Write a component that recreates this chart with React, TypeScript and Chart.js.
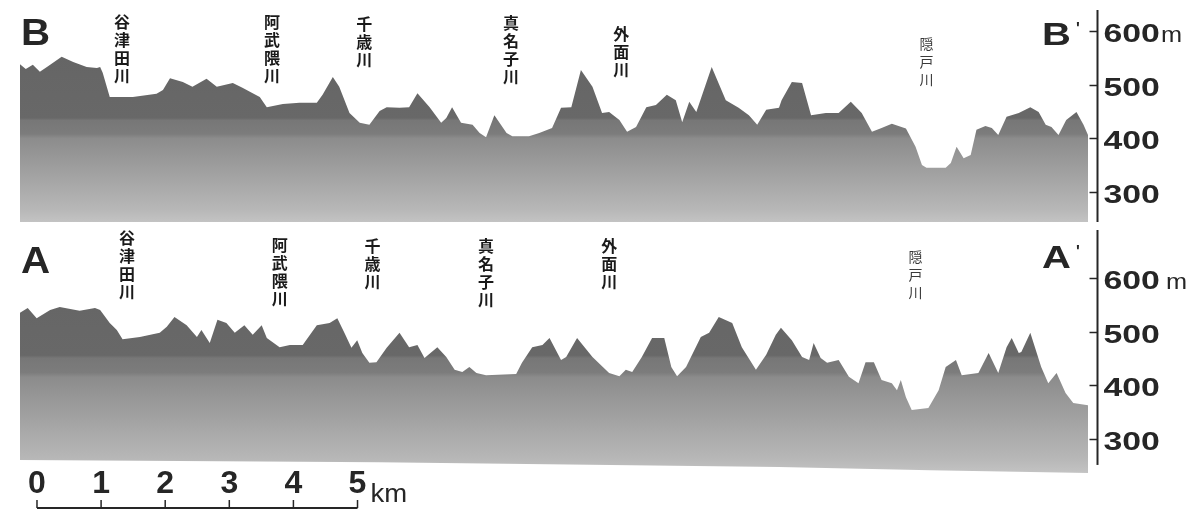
import { useEffect, useRef } from 'react';
import { Chart, registerables } from 'chart.js';

Chart.register(...registerables);

// Section B–B' : distance along the line (km) and ground elevation (m)
const sectionBKm = [0, 0.09, 0.2, 0.31, 0.42, 0.65, 0.83, 1.04, 1.2, 1.25, 1.29, 1.4, 1.76, 2.13, 2.23, 2.34, 2.54, 2.69, 2.91, 3.07, 3.32, 3.47, 3.63, 3.74, 3.85, 4.1, 4.36, 4.63, 4.72, 4.88, 4.98, 5.14, 5.3, 5.45, 5.61, 5.72, 5.92, 6.07, 6.2, 6.39, 6.57, 6.65, 6.74, 6.88, 7.06, 7.17, 7.27, 7.4, 7.59, 7.68, 7.94, 8.1, 8.3, 8.44, 8.6, 8.75, 8.93, 9.08, 9.19, 9.35, 9.47, 9.61, 9.77, 9.92, 10.09, 10.23, 10.33, 10.44, 10.55, 10.79, 11.01, 11.21, 11.37, 11.5, 11.64, 11.84, 11.88, 12.04, 12.2, 12.34, 12.57, 12.77, 12.96, 13.13, 13.29, 13.44, 13.6, 13.82, 13.97, 14.07, 14.14, 14.44, 14.52, 14.61, 14.72, 14.83, 14.92, 15.06, 15.16, 15.26, 15.39, 15.58, 15.76, 15.89, 16.0, 16.09, 16.2, 16.32, 16.48, 16.59, 16.66];
const sectionBElev = [538, 529, 537, 524, 533, 552, 542, 533, 531, 533, 522, 477, 477, 483, 490, 512, 505, 496, 511, 496, 503, 494, 484, 477, 458, 464, 466, 466, 481, 514, 496, 447, 429, 425, 451, 458, 457, 458, 484, 458, 429, 438, 458, 429, 425, 410, 402, 443, 410, 404, 404, 410, 419, 457, 458, 527, 496, 447, 449, 434, 412, 421, 458, 462, 481, 471, 430, 468, 449, 533, 471, 457, 443, 425, 453, 457, 471, 505, 503, 443, 447, 447, 468, 447, 412, 419, 427, 418, 384, 350, 345, 345, 354, 384, 363, 369, 416, 423, 419, 406, 440, 447, 458, 449, 425, 421, 406, 434, 449, 425, 406];

// Section A–A'
const sectionAKm = [0, 0.12, 0.26, 0.47, 0.62, 0.93, 1.17, 1.25, 1.4, 1.51, 1.6, 1.87, 2.18, 2.29, 2.41, 2.6, 2.76, 2.83, 2.96, 3.08, 3.22, 3.35, 3.5, 3.63, 3.77, 3.85, 4.05, 4.21, 4.41, 4.63, 4.83, 4.95, 5.06, 5.17, 5.26, 5.34, 5.45, 5.56, 5.72, 5.92, 6.07, 6.2, 6.31, 6.51, 6.65, 6.78, 6.9, 7.01, 7.12, 7.27, 7.74, 7.83, 7.99, 8.15, 8.26, 8.44, 8.52, 8.69, 8.93, 9.19, 9.35, 9.45, 9.55, 9.7, 9.86, 10.05, 10.16, 10.25, 10.39, 10.62, 10.75, 10.9, 11.11, 11.26, 11.48, 11.64, 11.79, 11.87, 12.04, 12.2, 12.31, 12.38, 12.49, 12.59, 12.77, 12.93, 13.08, 13.19, 13.32, 13.44, 13.6, 13.68, 13.74, 13.82, 13.91, 14.17, 14.33, 14.44, 14.6, 14.69, 14.95, 15.11, 15.26, 15.39, 15.47, 15.58, 15.62, 15.76, 15.93, 16.04, 16.17, 16.31, 16.43, 16.66];
const sectionAElev = [535, 544, 525, 540, 546, 539, 544, 540, 516, 503, 486, 490, 498, 509, 527, 512, 490, 503, 479, 522, 516, 498, 512, 494, 512, 488, 471, 475, 475, 512, 516, 525, 498, 470, 484, 460, 442, 443, 470, 498, 471, 475, 451, 471, 453, 429, 425, 434, 423, 419, 421, 442, 471, 475, 488, 447, 453, 488, 453, 423, 417, 429, 425, 453, 488, 488, 434, 417, 434, 490, 498, 527, 516, 471, 429, 457, 494, 507, 484, 453, 447, 479, 451, 442, 447, 416, 404, 443, 443, 410, 404, 391, 410, 378, 354, 358, 391, 434, 447, 419, 423, 460, 423, 471, 488, 460, 462, 498, 434, 404, 423, 386, 367, 363];

// Lower edge of section A–A'
const sectionABaseKm = [0, 5.6, 11.84, 14.2, 16.66];
const sectionABaseElev = [261, 257, 248, 242, 237];

const elevationTicks = [300, 400, 500, 600];
const scaleBarKm = [0, 1, 2, 3, 4, 5];

// Rivers crossed by each section
const riverNames = ['谷津田川', '阿武隈川', '千歳川', '真名子川', '外面川', '隠戸川'];
const riversBKm = [1.59, 3.93, 5.37, 7.66, 9.38, 14.14];
const riversAKm = [1.67, 4.05, 5.5, 7.27, 9.19, 13.97];

const LATIN = '"Liberation Sans", Arial, sans-serif';
const CJK = '"Noto Sans CJK JP", "Noto Sans CJK SC", sans-serif';
const INK = '#262626';

const points = (km: number[], elev: number[]) => km.map((x, i) => ({ x, y: elev[i] }));

function groundFill(darkTo: number, bandTo: number) {
  return (c: any) => {
    const chart = c.chart;
    const area = chart.chartArea;
    if (!area) return '#6a6a6a';
    const ys = chart.scales.y;
    const h = area.bottom - area.top;
    const f = (v: number) => Math.min(0.99, Math.max(0, (ys.getPixelForValue(v) - area.top) / h));
    const g = chart.ctx.createLinearGradient(0, area.top, 0, area.bottom);
    g.addColorStop(0, '#636363');
    g.addColorStop(f(darkTo), '#686868');
    g.addColorStop(Math.min(0.99, f(darkTo) + 0.012), '#777777');
    g.addColorStop(f(bandTo), '#7c7c7c');
    g.addColorStop(Math.min(0.99, f(bandTo) + 0.02), '#8c8c8c');
    g.addColorStop(0.94, '#b7b7b7');
    g.addColorStop(1, '#c3c3c3');
    return g;
  };
}

function stretched(ctx: CanvasRenderingContext2D, text: string, x: number, y: number, sx: number) {
  ctx.save();
  ctx.translate(x, y);
  ctx.scale(sx, 1);
  ctx.fillText(text, 0, 0);
  ctx.restore();
}

type Decor = {
  start: string;
  end: string;
  startY: number;
  endY: number;
  startSize: number;
  endSize: number;
  rivers: number[];
  riverTops: number[];
  axisBottomValue: number | null;
  unitGap: number;
  scaleBar: boolean;
};

const decorPlugin = {
  id: 'sectionDecor',
  afterDraw(chart: any, _args: any, opts: Decor) {
    const { ctx, chartArea: area } = chart;
    const xs = chart.scales.x;
    const ys = chart.scales.y;
    ctx.save();
    ctx.fillStyle = INK;
    ctx.strokeStyle = INK;

    // section end letters
    ctx.textAlign = 'left';
    ctx.textBaseline = 'alphabetic';
    ctx.font = `bold ${opts.startSize}px ${LATIN}`;
    stretched(ctx, opts.start, area.left + 1, opts.startY, 1.12);
    ctx.font = `bold ${opts.endSize}px ${LATIN}`;
    stretched(ctx, opts.end, area.right - 46, opts.endY, 1.25);
    ctx.font = `bold 16px ${LATIN}`;
    ctx.fillText("'", area.right - 12, opts.endY - 11);

    // river names, written vertically
    ctx.textAlign = 'center';
    ctx.textBaseline = 'middle';
    riverNames.forEach((name, i) => {
      const minor = name === '隠戸川';
      ctx.font = minor ? `14px ${CJK}` : `bold 16px ${CJK}`;
      ctx.fillStyle = minor ? '#3a3a3a' : '#1a1a1a';
      const x = xs.getPixelForValue(opts.rivers[i]);
      Array.from(name).forEach((ch, j) => ctx.fillText(ch, x, opts.riverTops[i] + j * 18));
    });

    // elevation axis on the right
    const axisX = area.right + 9.5;
    const axisBottom = opts.axisBottomValue === null ? area.bottom : ys.getPixelForValue(opts.axisBottomValue);
    ctx.fillStyle = INK;
    ctx.lineWidth = 2;
    ctx.beginPath();
    ctx.moveTo(axisX, area.top);
    ctx.lineTo(axisX, axisBottom);
    ctx.stroke();
    ctx.lineWidth = 1.5;
    ctx.textAlign = 'left';
    ctx.textBaseline = 'alphabetic';
    elevationTicks.forEach((v) => {
      const py = Math.round(ys.getPixelForValue(v)) + 0.5;
      ctx.beginPath();
      ctx.moveTo(axisX - 8, py);
      ctx.lineTo(axisX, py);
      ctx.stroke();
      ctx.font = `bold 26px ${LATIN}`;
      const label = String(v);
      stretched(ctx, label, axisX + 6, py + 10, 1.3);
      if (v === Math.max(...elevationTicks)) {
        const w = ctx.measureText(label).width * 1.3;
        ctx.font = `22px ${LATIN}`;
        stretched(ctx, 'm', axisX + 6 + w + opts.unitGap, py + 10, 1.15);
      }
    });

    // distance scale bar
    if (opts.scaleBar) {
      const origin = 0.265;
      const barY = area.bottom + 35;
      const px = scaleBarKm.map((k) => xs.getPixelForValue(origin + k));
      ctx.lineWidth = 2;
      ctx.beginPath();
      ctx.moveTo(px[0], barY);
      ctx.lineTo(px[px.length - 1], barY);
      ctx.stroke();
      ctx.lineWidth = 1.5;
      ctx.textAlign = 'center';
      ctx.font = `bold 32px ${LATIN}`;
      px.forEach((x, i) => {
        ctx.beginPath();
        ctx.moveTo(x, barY - 8);
        ctx.lineTo(x, barY);
        ctx.stroke();
        ctx.fillText(String(scaleBarKm[i]), x, barY - 15);
      });
      ctx.textAlign = 'left';
      ctx.font = `25px ${LATIN}`;
      stretched(ctx, 'km', px[px.length - 1] + 13, barY - 6, 1.1);
    }
    ctx.restore();
  },
};

function baseOptions(yMin: number, yMax: number, padding: any, decor: Decor) {
  return {
    responsive: false,
    animation: false as const,
    devicePixelRatio: 1,
    layout: { padding },
    events: [],
    elements: { point: { radius: 0 }, line: { tension: 0, borderWidth: 0 } },
    scales: {
      x: { type: 'linear' as const, min: 0, max: 16.66, display: false },
      y: { type: 'linear' as const, min: yMin, max: yMax, display: false },
    },
    plugins: {
      legend: { display: false },
      tooltip: { enabled: false },
      sectionDecor: decor,
    },
  };
}

export default function App() {
  const topRef = useRef<HTMLCanvasElement>(null);
  const bottomRef = useRef<HTMLCanvasElement>(null);

  useEffect(() => {
    const top = new Chart(topRef.current!, {
      type: 'line',
      data: {
        datasets: [
          {
            label: "B–B'",
            data: points(sectionBKm, sectionBElev),
            fill: 'start',
            borderColor: 'rgba(0,0,0,0)',
            backgroundColor: groundFill(438, 408),
          },
        ],
      },
      options: baseOptions(244, 639, { left: 20, right: 100, top: 10, bottom: 4 }, {
        start: 'B',
        end: 'B',
        startY: 45,
        endY: 45,
        startSize: 36,
        endSize: 32,
        rivers: riversBKm,
        riverTops: [22, 22, 24, 23, 34, 44],
        axisBottomValue: null,
        unitGap: 1,
        scaleBar: false,
      }) as any,
      plugins: [decorPlugin],
    });

    const bottom = new Chart(bottomRef.current!, {
      type: 'line',
      data: {
        datasets: [
          {
            label: 'base',
            data: points(sectionABaseKm, sectionABaseElev),
            fill: false,
            borderColor: 'rgba(0,0,0,0)',
          },
          {
            label: "A–A'",
            data: points(sectionAKm, sectionAElev),
            fill: '-1',
            borderColor: 'rgba(0,0,0,0)',
            backgroundColor: groundFill(456, 424),
          },
        ],
      },
      options: baseOptions(237, 689, { left: 20, right: 100, top: 4, bottom: 37 }, {
        start: 'A',
        end: 'A',
        startY: 47,
        endY: 42,
        startSize: 36,
        endSize: 32,
        rivers: riversAKm,
        riverTops: [12, 19, 20, 20, 20, 31],
        axisBottomValue: 252,
        unitGap: 6,
        scaleBar: true,
      }) as any,
      plugins: [decorPlugin],
    });

    return () => {
      top.destroy();
      bottom.destroy();
    };
  }, []);

  return (
    <div style={{ position: 'absolute', left: 0, top: 0, width: 1188, height: 510, background: '#fff', overflow: 'hidden' }}>
      <canvas ref={topRef} width={1188} height={226} style={{ position: 'absolute', left: 0, top: 0 }} />
      <canvas ref={bottomRef} width={1188} height={284} style={{ position: 'absolute', left: 0, top: 226 }} />
    </div>
  );
}
